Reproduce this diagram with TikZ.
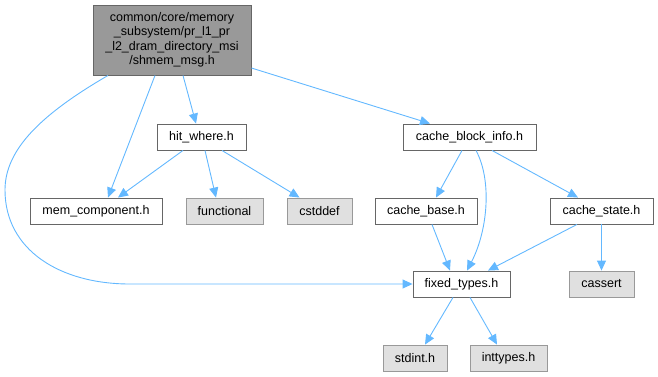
\documentclass[tikz,border=0pt]{standalone}
\usepackage{fontspec}
\setmainfont{Liberation Sans}
\usetikzlibrary{arrows.meta}
\definecolor{edgeblue}{HTML}{63B8FF}
\definecolor{boxgrey}{HTML}{999999}
\definecolor{boxline}{HTML}{666666}
\definecolor{sysfill}{HTML}{E0E0E0}

\tikzset{
  filebox/.style={draw=boxline, fill=white, line width=0.9pt, inner sep=0pt, minimum height=26pt, font=\fontsize{12.5}{14}\selectfont},
  sysbox/.style={filebox, draw=boxgrey, fill=sysfill},
  incl/.style={draw=edgeblue, line width=0.9pt, -{Triangle[length=10pt,width=9pt]}}
}

\begin{document}
\begin{tikzpicture}[x=1pt, y=-1pt]
\useasboundingbox (0,0) rectangle (658,376);
\node[filebox, fill=boxgrey, minimum width=158pt, minimum height=70pt, align=center, font=\fontsize{12.5}{14.5}\selectfont] (shmem) at (172,40) {common/core/memory\\\_subsystem/pr\_l1\_pr\\\_l2\_dram\_directory\_msi\\/shmem\_msg.h};
\node[filebox, minimum width=89pt] (hitwhere) at (201.5,137) {hit\_where.h};
\node[filebox, minimum width=133pt] (cacheblock) at (469.5,137) {cache\_block\_info.h};
\node[filebox, minimum width=132pt] (memcomp) at (96,211) {mem\_component.h};
\node[sysbox, minimum width=77pt] (functional) at (224.5,211) {functional};
\node[sysbox, minimum width=65pt] (cstddef) at (319.5,211) {cstddef};
\node[filebox, minimum width=102pt] (cachebase) at (426,211) {cache\_base.h};
\node[filebox, minimum width=103pt] (cachestate) at (601.5,211) {cache\_state.h};
\node[filebox, minimum width=97pt] (fixedtypes) at (461.5,284) {fixed\_types.h};
\node[sysbox, minimum width=65pt] (cassert) at (601.5,284) {cassert};
\node[sysbox, minimum width=64pt] (stdint) at (415,358) {stdint.h};
\node[sysbox, minimum width=77pt] (inttypes) at (508.5,358) {inttypes.h};

\draw[incl] ([xshift=-17pt]shmem.south) -- ([xshift=12pt]memcomp.north);
\draw[incl] ([xshift=11pt]shmem.south) -- ([xshift=-5.5pt]hitwhere.north);
\draw[incl] ([yshift=-28pt]shmem.east) -- ([xshift=-39.5pt]cacheblock.north);
\draw[incl] ([xshift=-64pt]shmem.south) .. controls (40,115) and (5,150) .. (5,190) .. controls (5,250) and (60,284) .. (130,284) -- (fixedtypes.west);
\draw[incl] ([xshift=-18.5pt]hitwhere.south) -- ([xshift=22pt]memcomp.north);
\draw[incl] ([xshift=3.5pt]hitwhere.south) -- ([xshift=-8.5pt]functional.north);
\draw[incl] ([xshift=20.5pt]hitwhere.south) -- ([xshift=-20pt]cstddef.north);
\draw[incl] ([xshift=-7.5pt]cacheblock.south) -- ([xshift=10pt]cachebase.north);
\draw[incl] ([xshift=6.5pt]cacheblock.south) .. controls (492,180) and (488,230) .. ([xshift=5.5pt]fixedtypes.north);
\draw[incl] ([xshift=22.5pt]cacheblock.south) -- ([xshift=-23.5pt]cachestate.north);
\draw[incl] ([xshift=6pt]cachebase.south) -- ([xshift=-11.5pt]fixedtypes.north);
\draw[incl] ([xshift=-24.5pt]cachestate.south) -- ([xshift=26.5pt]fixedtypes.north);
\draw[incl] (cachestate.south) -- (cassert.north);
\draw[incl] ([xshift=-8.5pt]fixedtypes.south) -- ([xshift=10pt]stdint.north);
\draw[incl] ([xshift=8.5pt]fixedtypes.south) -- ([xshift=-11.5pt]inttypes.north);
\end{tikzpicture}
\end{document}
